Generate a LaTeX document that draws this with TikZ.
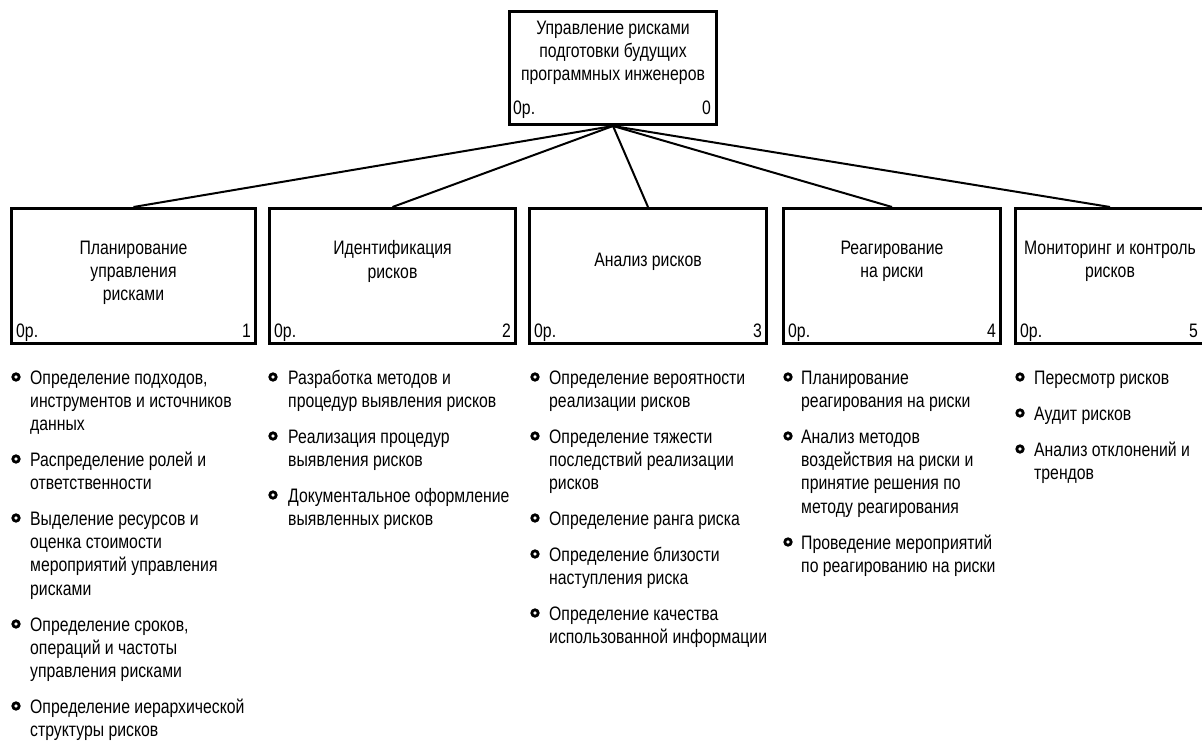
\documentclass[tikz,border=0pt]{standalone}
\usepackage{fontspec}
\setmainfont{Liberation Sans}[FakeStretch=0.81]
\newcommand\ttlfont{\fontsize{19.5}{23.3}\selectfont}
\newcommand\lstfont{\fontsize{19.5}{23.3}\selectfont}
\begin{document}
\begin{tikzpicture}[x=1pt,y=-1pt,
  box/.style={draw, line width=3pt, rectangle, inner sep=0pt},
  ttl/.style={align=center, inner sep=0pt, font=\ttlfont},
  itm/.style={align=left, anchor=north west, inner sep=0pt, font=\lstfont},
  conn/.style={line width=2pt},
  bul/.style={line width=2.8pt},
  corner/.style={inner sep=0pt, font=\ttlfont}]
\useasboundingbox (0,0) rectangle (1202,749);
\clip (0,0) rectangle (1202,749);

% boxes
\node[box, minimum width=207pt, minimum height=113pt] (root) at (613,68) {};
\node[box, minimum width=244pt, minimum height=135pt] (b1) at (133.5,276) {};
\node[box, minimum width=246pt, minimum height=135pt] (b2) at (392.5,276) {};
\node[box, minimum width=237pt, minimum height=135pt] (b3) at (648,276) {};
\node[box, minimum width=217pt, minimum height=135pt] (b4) at (892,276) {};
\node[box, minimum width=189pt, minimum height=135pt] (b5) at (1110,276) {};

% connectors
\foreach \c in {b1,b2,b3,b4,b5} \draw[conn] (root.south) -- (\c.north);

% titles
\node[ttl] (t0) at (613,53) {Управление рисками\\подготовки будущих\\программных инженеров};
\node[ttl] (t1) at (133.5,273) {Планирование\\управления\\рисками};
\node[ttl] (t2) at (392.5,261.5) {Идентификация\\рисков};
\node[ttl] (t3) at (648,262) {Анализ рисков};
\node[ttl] (t4) at (892,261.5) {Реагирование\\на риски};
\node[ttl] (t5) at (1110,261.5) {Мониторинг и контроль\\рисков};

% corner labels
\node[corner, anchor=base west] (p0) at (513,115) {0р.};
\node[corner, anchor=base east] (n0) at (711,115) {0};
\node[corner, anchor=base west] (p1) at (16,337) {0р.};
\node[corner, anchor=base east] (n1) at (251,337) {1};
\node[corner, anchor=base west] (p2) at (274,337) {0р.};
\node[corner, anchor=base east] (n2) at (511,337) {2};
\node[corner, anchor=base west] (p3) at (534,337) {0р.};
\node[corner, anchor=base east] (n3) at (762,337) {3};
\node[corner, anchor=base west] (p4) at (788,337) {0р.};
\node[corner, anchor=base east] (n4) at (996,337) {4};
\node[corner, anchor=base west] (p5) at (1020,337) {0р.};
\node[corner, anchor=base east] (n5) at (1198,337) {5};

% column 1
\draw[bul] (16,377) circle (3.2pt);
\node[itm] (i11) at (30,367.7) {\strut Определение подходов,\\инструментов и источников\\данных};
\draw[bul] (16,459) circle (3.2pt);
\node[itm] (i12) at (30,449.7) {\strut Распределение ролей и\\ответственности};
\draw[bul] (16,518) circle (3.2pt);
\node[itm] (i13) at (30,508.7) {\strut Выделение ресурсов и\\оценка стоимости\\мероприятий управления\\рисками};
\draw[bul] (16,624) circle (3.2pt);
\node[itm] (i14) at (30,614.7) {\strut Определение сроков,\\операций и частоты\\управления рисками};
\draw[bul] (16,706) circle (3.2pt);
\node[itm] (i15) at (30,696.7) {\strut Определение иерархической\\структуры рисков};

% column 2
\draw[bul] (273,377) circle (3.2pt);
\node[itm] (i21) at (288,367.7) {\strut Разработка методов и\\процедур выявления рисков};
\draw[bul] (273,436) circle (3.2pt);
\node[itm] (i22) at (288,426.7) {\strut Реализация процедур\\выявления рисков};
\draw[bul] (273,495) circle (3.2pt);
\node[itm] (i23) at (288,485.7) {\strut Документальное оформление\\выявленных рисков};

% column 3
\draw[bul] (535,377) circle (3.2pt);
\node[itm] (i31) at (549,367.7) {\strut Определение вероятности\\реализации рисков};
\draw[bul] (535,436) circle (3.2pt);
\node[itm] (i32) at (549,426.7) {\strut Определение тяжести\\последствий реализации\\рисков};
\draw[bul] (535,518) circle (3.2pt);
\node[itm] (i33) at (549,508.7) {\strut Определение ранга риска};
\draw[bul] (535,554) circle (3.2pt);
\node[itm] (i34) at (549,544.7) {\strut Определение близости\\наступления риска};
\draw[bul] (535,613) circle (3.2pt);
\node[itm] (i35) at (549,603.7) {\strut Определение качества\\использованной информации};

% column 4
\draw[bul] (788,377) circle (3.2pt);
\node[itm] (i41) at (801,367.7) {\strut Планирование\\реагирования на риски};
\draw[bul] (788,436) circle (3.2pt);
\node[itm] (i42) at (801,426.7) {\strut Анализ методов\\воздействия на риски и\\принятие решения по\\методу реагирования};
\draw[bul] (788,542) circle (3.2pt);
\node[itm] (i43) at (801,532.7) {\strut Проведение мероприятий\\по реагированию на риски};

% column 5
\draw[bul] (1020,377) circle (3.2pt);
\node[itm] (i51) at (1034,367.7) {\strut Пересмотр рисков};
\draw[bul] (1020,413) circle (3.2pt);
\node[itm] (i52) at (1034,403.7) {\strut Аудит рисков};
\draw[bul] (1020,449) circle (3.2pt);
\node[itm] (i53) at (1034,439.7) {\strut Анализ отклонений и\\трендов};
\end{tikzpicture}
\end{document}
